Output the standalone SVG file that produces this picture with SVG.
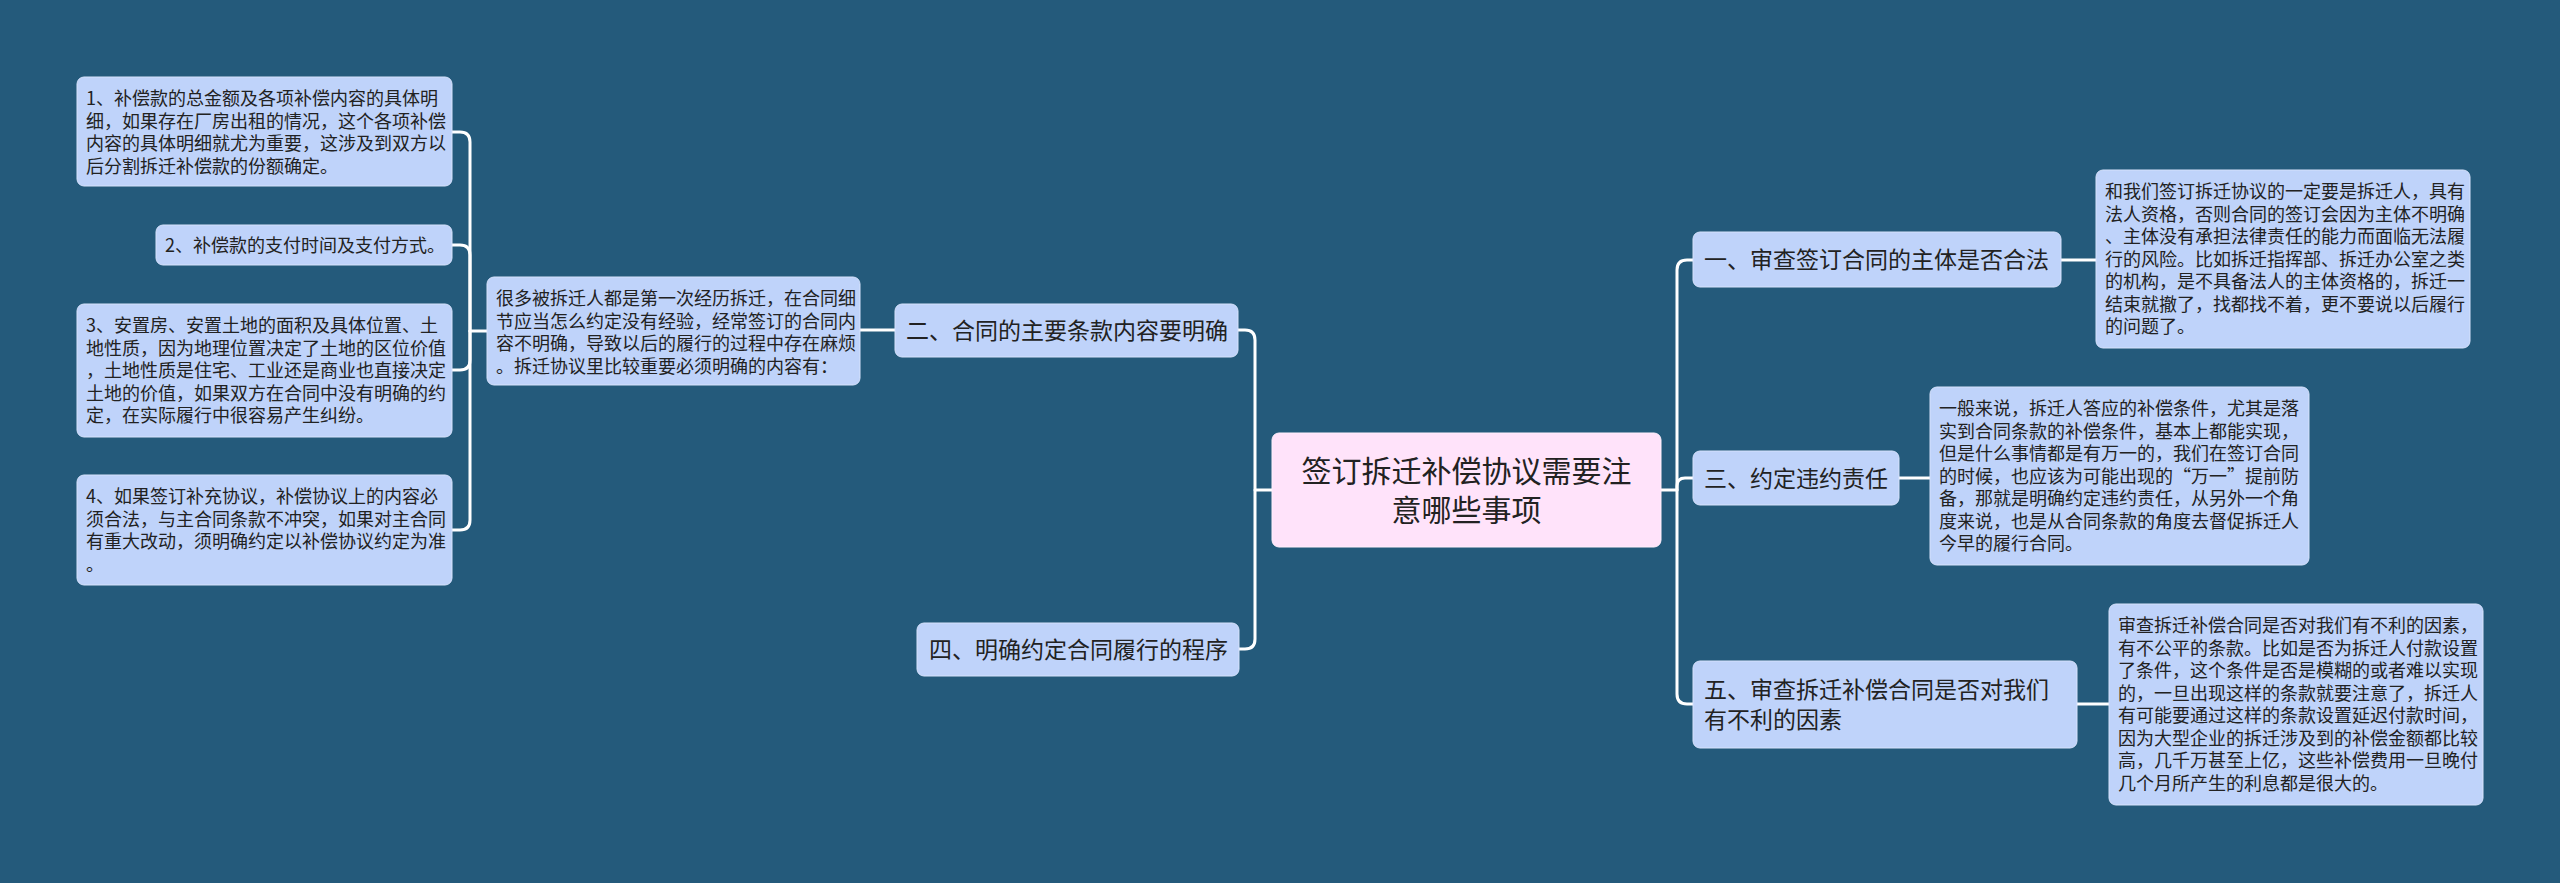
<svg xmlns="http://www.w3.org/2000/svg" width="2560" height="883" viewBox="0 0 2560 883">
<style>
.bg{fill:#245a7b}
.n{fill:#bfd3fa;stroke:#d6e2fc;stroke-width:1}
.c{fill:#ffe3fa;stroke:#fff0fc;stroke-width:1}
text{font-family:"Noto Sans CJK SC","Noto Sans",sans-serif;fill:#222}
.d{font-size:18px}
.m{font-size:23px}
.t{font-size:30px}
.e{fill:none;stroke:#ffffff;stroke-width:3;stroke-linecap:round;stroke-linejoin:round}
</style>
<rect class="bg" x="0" y="0" width="2560" height="883"/>
<g id="connectors">
<path class="e" d="M1272 490 H1255 V340 Q1255 330 1245 330 H1238"/>
<path class="e" d="M1255 490 V639 Q1255 649 1245 649 H1239"/>
<path class="e" d="M1661 490 H1677 V270 Q1677 260 1687 260 H1693"/>
<path class="e" d="M1677 490 V486 Q1677 478 1685 478 H1693"/>
<path class="e" d="M1677 490 V694 Q1677 704 1687 704 H1693"/>
<path class="e" d="M2061 260 H2096"/>
<path class="e" d="M1899 478 H1930"/>
<path class="e" d="M2077 704 H2109"/>
<path class="e" d="M895 330 H860"/>
<path class="e" d="M487 331 H470 V142 Q470 132 460 132 H452"/>
<path class="e" d="M470 331 V255 Q470 245 460 245 H452"/>
<path class="e" d="M470 331 V360 Q470 370 460 370 H452"/>
<path class="e" d="M470 331 V520 Q470 530 460 530 H452"/>
</g>
<g id="center">
<rect class="c" x="1272" y="433" width="389" height="114" rx="7"/>
<text class="t" x="1466.5" y="482" text-anchor="middle">签订拆迁补偿协议需要注</text>
<text class="t" x="1466.5" y="521" text-anchor="middle">意哪些事项</text>
</g>
<g id="n1">
<rect class="n" x="1693" y="232" width="368" height="55" rx="7"/>
<text class="m" x="1704" y="268">一、审查签订合同的主体是否合法</text>
</g>
<g id="n1d">
<rect class="n" x="2096" y="170" width="374" height="178" rx="7"/>
<text class="d" x="2105" y="198">和我们签订拆迁协议的一定要是拆迁人，具有</text>
<text class="d" x="2105" y="220.5">法人资格，否则合同的签订会因为主体不明确</text>
<text class="d" x="2105" y="243">、主体没有承担法律责任的能力而面临无法履</text>
<text class="d" x="2105" y="265.5">行的风险。比如拆迁指挥部、拆迁办公室之类</text>
<text class="d" x="2105" y="288">的机构，是不具备法人的主体资格的，拆迁一</text>
<text class="d" x="2105" y="310.5">结束就撤了，找都找不着，更不要说以后履行</text>
<text class="d" x="2105" y="333">的问题了。</text>
</g>
<g id="n3">
<rect class="n" x="1693" y="451" width="206" height="54" rx="7"/>
<text class="m" x="1704" y="486.5">三、约定违约责任</text>
</g>
<g id="n3d">
<rect class="n" x="1930" y="387" width="379" height="178" rx="7"/>
<text class="d" x="1939" y="415">一般来说，拆迁人答应的补偿条件，尤其是落</text>
<text class="d" x="1939" y="437.5">实到合同条款的补偿条件，基本上都能实现，</text>
<text class="d" x="1939" y="460">但是什么事情都是有万一的，我们在签订合同</text>
<text class="d" x="1939" y="482.5">的时候，也应该为可能出现的“万一”提前防</text>
<text class="d" x="1939" y="505">备，那就是明确约定违约责任，从另外一个角</text>
<text class="d" x="1939" y="527.5">度来说，也是从合同条款的角度去督促拆迁人</text>
<text class="d" x="1939" y="550">今早的履行合同。</text>
</g>
<g id="n5">
<rect class="n" x="1693" y="661" width="384" height="87" rx="7"/>
<text class="m" x="1704" y="698">五、审查拆迁补偿合同是否对我们</text>
<text class="m" x="1704" y="728">有不利的因素</text>
</g>
<g id="n5d">
<rect class="n" x="2109" y="604" width="374" height="201" rx="7"/>
<text class="d" x="2118" y="632">审查拆迁补偿合同是否对我们有不利的因素，</text>
<text class="d" x="2118" y="654.5">有不公平的条款。比如是否为拆迁人付款设置</text>
<text class="d" x="2118" y="677">了条件，这个条件是否是模糊的或者难以实现</text>
<text class="d" x="2118" y="699.5">的，一旦出现这样的条款就要注意了，拆迁人</text>
<text class="d" x="2118" y="722">有可能要通过这样的条款设置延迟付款时间，</text>
<text class="d" x="2118" y="744.5">因为大型企业的拆迁涉及到的补偿金额都比较</text>
<text class="d" x="2118" y="767">高，几千万甚至上亿，这些补偿费用一旦晚付</text>
<text class="d" x="2118" y="789.5">几个月所产生的利息都是很大的。</text>
</g>
<g id="n2">
<rect class="n" x="895" y="304" width="343" height="53" rx="7"/>
<text class="m" x="906" y="339">二、合同的主要条款内容要明确</text>
</g>
<g id="n2d">
<rect class="n" x="487" y="277" width="373" height="108" rx="7"/>
<text class="d" x="496" y="305">很多被拆迁人都是第一次经历拆迁，在合同细</text>
<text class="d" x="496" y="327.5">节应当怎么约定没有经验，经常签订的合同内</text>
<text class="d" x="496" y="350">容不明确，导致以后的履行的过程中存在麻烦</text>
<text class="d" x="496" y="372.5">。拆迁协议里比较重要必须明确的内容有：</text>
</g>
<g id="s1">
<rect class="n" x="77" y="77" width="375" height="109" rx="7"/>
<text class="d" x="86" y="105">1、补偿款的总金额及各项补偿内容的具体明</text>
<text class="d" x="86" y="127.5">细，如果存在厂房出租的情况，这个各项补偿</text>
<text class="d" x="86" y="150">内容的具体明细就尤为重要，这涉及到双方以</text>
<text class="d" x="86" y="172.5">后分割拆迁补偿款的份额确定。</text>
</g>
<g id="s2">
<rect class="n" x="156" y="225" width="296" height="40" rx="7"/>
<text class="d" x="165" y="252">2、补偿款的支付时间及支付方式。</text>
</g>
<g id="s3">
<rect class="n" x="77" y="304" width="375" height="133" rx="7"/>
<text class="d" x="86" y="332">3、安置房、安置土地的面积及具体位置、土</text>
<text class="d" x="86" y="354.5">地性质，因为地理位置决定了土地的区位价值</text>
<text class="d" x="86" y="377">，土地性质是住宅、工业还是商业也直接决定</text>
<text class="d" x="86" y="399.5">土地的价值，如果双方在合同中没有明确的约</text>
<text class="d" x="86" y="422">定，在实际履行中很容易产生纠纷。</text>
</g>
<g id="s4">
<rect class="n" x="77" y="475" width="375" height="110" rx="7"/>
<text class="d" x="86" y="503">4、如果签订补充协议，补偿协议上的内容必</text>
<text class="d" x="86" y="525.5">须合法，与主合同条款不冲突，如果对主合同</text>
<text class="d" x="86" y="548">有重大改动，须明确约定以补偿协议约定为准</text>
<text class="d" x="86" y="570.5">。</text>
</g>
<g id="n4">
<rect class="n" x="917" y="623" width="322" height="53" rx="7"/>
<text class="m" x="929" y="657.5">四、明确约定合同履行的程序</text>
</g>
</svg>
